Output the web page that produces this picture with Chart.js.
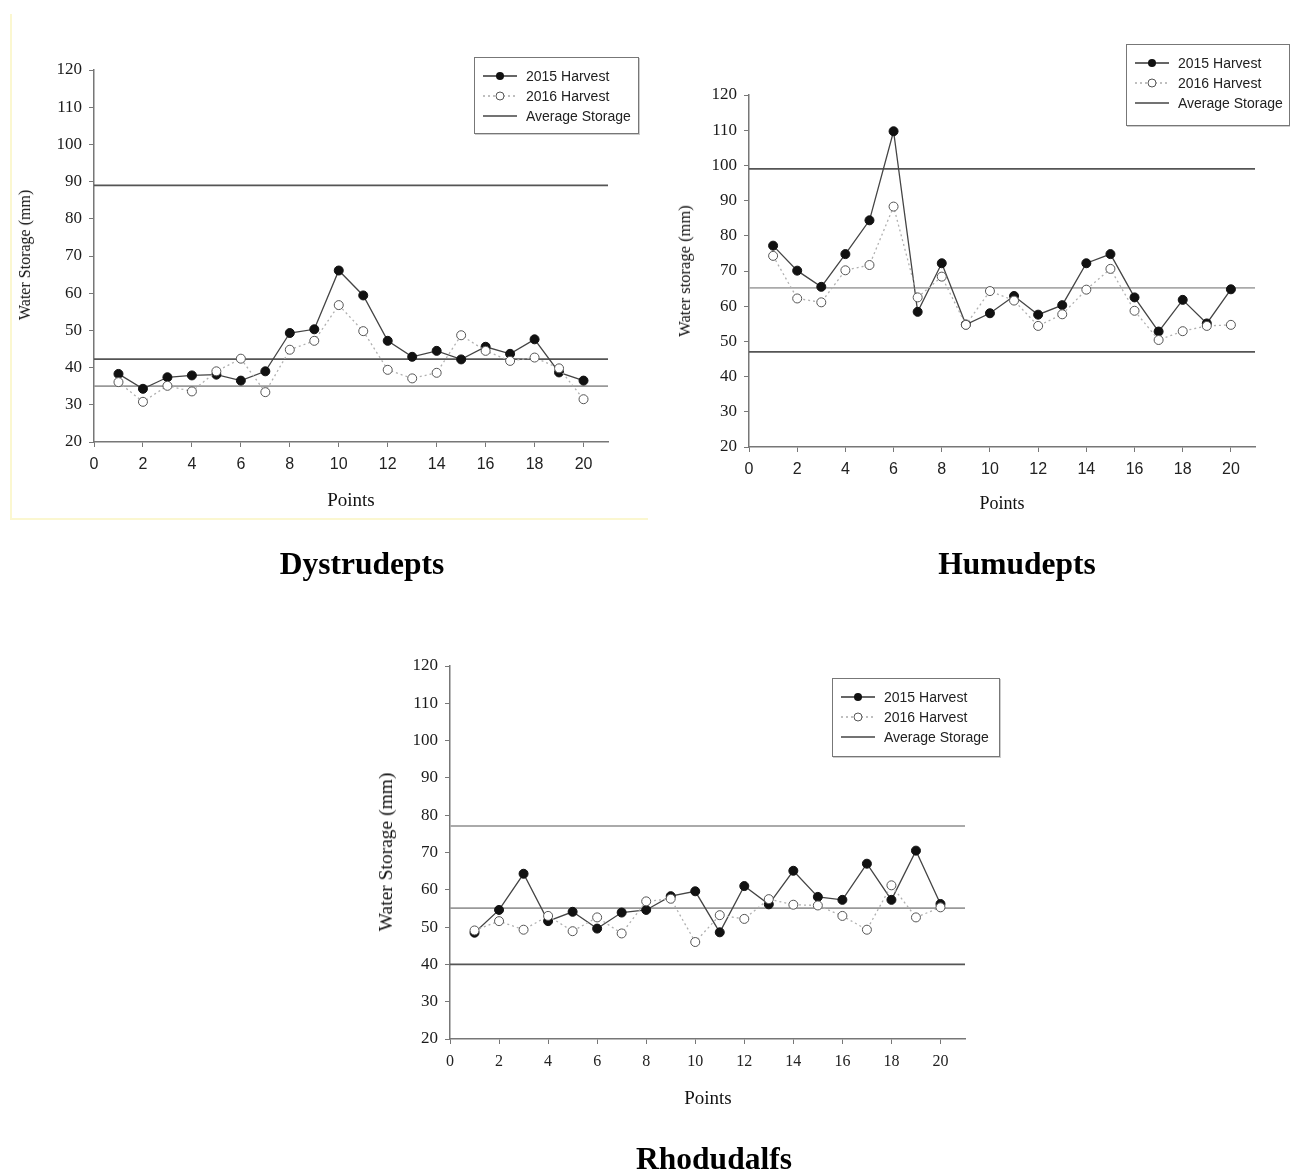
<!DOCTYPE html>
<html>
<head>
<meta charset="utf-8">
<script src="https://cdn.jsdelivr.net/npm/chart.js@4.4.1/dist/chart.umd.min.js"></script>
<style>
  body { margin: 0; background: #fff; }
  #page { position: relative; width: 1290px; height: 1173px; overflow: hidden; }
  canvas { position: absolute; }
  .txt { position: absolute; white-space: nowrap; transform: translate(-50%, -50%); color: #111; }
  .serif { font-family: "Liberation Serif", "DejaVu Serif", serif; }
  .title { font-weight: bold; font-size: 31.5px; color: #000; }
  .ylab { transform: translate(-50%, -50%) rotate(-90deg); }
  .legend { position: absolute; border: 1px solid #777; background: #fff; box-shadow: 1px 1px 0 #ccc;
            font-family: "Liberation Sans", Arial, sans-serif; font-size: 14px; color: #222; }
  .legend .row { position: absolute; left: 8px; height: 20px; display: flex; align-items: center; }
  .legend svg { margin-right: 9px; }
  #frame { position: absolute; left: 10px; top: 14px; width: 636px; height: 504px;
           border-left: 2px solid #fbf7d0; border-bottom: 2px solid #fbf7d0; }
</style>
</head>
<body>
<div id="page">
  <div id="frame"></div>
  <canvas id="c1" width="650" height="530" style="left:0;top:0"></canvas>
  <canvas id="c2" width="640" height="530" style="left:650px;top:0"></canvas>
  <canvas id="c3" width="700" height="510" style="left:330px;top:620px"></canvas>

  <div class="txt serif ylab" style="left:25px;top:255px;font-size:16px">Water Storage (mm)</div>
  <div class="txt serif" style="left:351px;top:500px;font-size:19px">Points</div>
  <div class="txt serif title" style="left:362px;top:564px">Dystrudepts</div>

  <div class="txt serif ylab" style="left:685px;top:271px;font-size:16.5px">Water storage (mm)</div>
  <div class="txt serif" style="left:1002px;top:503px;font-size:18px">Points</div>
  <div class="txt serif title" style="left:1017px;top:564px">Humudepts</div>

  <div class="txt serif ylab" style="left:386px;top:852px;font-size:19.5px">Water Storage (mm)</div>
  <div class="txt serif" style="left:708px;top:1098px;font-size:19px">Points</div>
  <div class="txt serif title" style="left:714px;top:1159px">Rhodudalfs</div>
</div>
<script>
// points 1..20
const points = [1,2,3,4,5,6,7,8,9,10,11,12,13,14,15,16,17,18,19,20];

// Dystrudepts
const dys2015 = [38.3,34.3,37.4,37.9,38.1,36.5,39,49.3,50.3,66.1,59.4,47.2,42.9,44.5,42.2,45.6,43.7,47.6,38.7,36.5];
const dys2016 = [36.1,30.8,35.1,33.6,39,42.4,33.4,44.8,47.2,56.8,49.8,39.4,37.1,38.6,48.7,44.5,41.8,42.7,39.8,31.5];
const dysAvg = [89, 42.3, 35];

// Humudepts
const hum2015 = [77.2,70.1,65.5,74.8,84.4,109.7,58.4,72.2,54.8,58,62.9,57.6,60.3,72.2,74.8,62.5,52.8,61.8,55.1,64.8];
const hum2016 = [74.3,62.2,61.1,70.2,71.7,88.3,62.5,68.4,54.7,64.3,61.6,54.4,57.7,64.7,70.6,58.7,50.4,52.9,54.4,54.7];
const humAvg = [99, 65.2, 47];

// Rhodudalfs
const rho2015 = [48.5,54.6,64.3,51.6,54.1,49.6,53.9,54.6,58.3,59.6,48.6,61,56.1,65.1,58.1,57.3,67,57.3,70.5,56.2];
const rho2016 = [49.1,51.6,49.3,53,48.9,52.6,48.3,56.9,57.6,46,53.2,52.2,57.5,56,55.8,53,49.3,61.2,52.6,55.3];
const rhoAvg = [77.1, 55.1, 40];

const xTicks = [0,2,4,6,8,10,12,14,16,18,20];
const yTicks = [20,30,40,50,60,70,80,90,100,110,120];

const serif = '"Liberation Serif", "DejaVu Serif", serif';
const sans = '"Liberation Sans", Arial, sans-serif';

function pairs(vals) {
  return points.map((p, i) => ({ x: p, y: vals[i] }));
}

function makeChart(id, s2015, s2016, avg, avgColors, box, xFont) {
  const datasets = [
    {
      label: '2016 Harvest', data: pairs(s2016), showLine: true, order: 0,
      borderColor: '#b0b0b0', borderWidth: 1.3, borderDash: [2, 3],
      pointRadius: 4.5, pointBackgroundColor: '#fff', pointBorderColor: '#555', pointBorderWidth: 1
    },
    {
      label: '2015 Harvest', data: pairs(s2015), showLine: true, order: 1,
      borderColor: '#444', borderWidth: 1.3,
      pointRadius: 4.5, pointBackgroundColor: '#111', pointBorderColor: '#111', pointBorderWidth: 1
    }
  ];
  avg.forEach((v, i) => {
    datasets.push({
      label: 'Average Storage', data: [{ x: 0, y: v }, { x: 21, y: v }], showLine: true, order: 2,
      borderColor: avgColors[i], borderWidth: 1.8, pointRadius: 0
    });
  });

  new Chart(document.getElementById(id), {
    type: 'scatter',
    data: { datasets },
    options: {
      responsive: false,
      animation: false,
      layout: { padding: { left: 0, top: box.top, right: box.right, bottom: 0 } },
      plugins: { legend: { display: false }, tooltip: { enabled: false } },
      scales: {
        x: {
          type: 'linear', min: 0, max: 21,
          afterFit: s => { s.height = box.xh; },
          afterBuildTicks: s => { s.ticks = xTicks.map(v => ({ value: v })); },
          grid: { drawOnChartArea: false, tickLength: 5, color: '#777' },
          border: { color: '#777', width: 1.5 },
          ticks: { padding: 8, color: '#222', font: { family: xFont, size: 16 } }
        },
        y: {
          type: 'linear', min: 20, max: 120,
          afterFit: s => { s.width = box.yw; },
          afterBuildTicks: s => { s.ticks = yTicks.map(v => ({ value: v })); },
          grid: { drawOnChartArea: false, tickLength: 5, color: '#777' },
          border: { color: '#777', width: 1.5 },
          ticks: { padding: 7, color: '#1a1a1a', font: { family: serif, size: 17 } }
        }
      }
    }
  });
}

makeChart('c1', dys2015, dys2016, dysAvg, ['#555', '#555', '#999'], { top: 70, right: 42, yw: 94, xh: 88 }, sans);
makeChart('c2', hum2015, hum2016, humAvg, ['#555', '#aaa', '#555'], { top: 95, right: 35, yw: 99, xh: 83 }, sans);
makeChart('c3', rho2015, rho2016, rhoAvg, ['#aaa', '#999', '#555'], { top: 46, right: 65, yw: 120, xh: 91 }, serif);

// legends drawn as html boxes over the plot areas
function legendSvg(kind) {
  if (kind === 'a') return '<svg width="34" height="12"><line x1="0" y1="6" x2="34" y2="6" stroke="#333" stroke-width="1.3"/><circle cx="17" cy="6" r="4" fill="#111"/></svg>';
  if (kind === 'b') return '<svg width="34" height="12"><line x1="0" y1="6" x2="34" y2="6" stroke="#aaa" stroke-width="1.3" stroke-dasharray="2,3"/><circle cx="17" cy="6" r="4" fill="#fff" stroke="#555"/></svg>';
  return '<svg width="34" height="12"><line x1="0" y1="6" x2="34" y2="6" stroke="#444" stroke-width="1.3"/></svg>';
}
const legendLabels = ['2015 Harvest', '2016 Harvest', 'Average Storage'];
function addLegend(left, top, w, h) {
  const d = document.createElement('div');
  d.className = 'legend';
  d.style.cssText = `left:${left}px;top:${top}px;width:${w}px;height:${h}px`;
  ['a', 'b', 'c'].forEach((k, i) => {
    const r = document.createElement('div');
    r.className = 'row';
    r.style.top = (8 + i * 20) + 'px';
    r.innerHTML = legendSvg(k) + '<span>' + legendLabels[i] + '</span>';
    d.appendChild(r);
  });
  document.getElementById('page').appendChild(d);
}
addLegend(474, 57, 163, 75);
addLegend(1126, 44, 162, 80);
addLegend(832, 678, 166, 77);
</script>
</body>
</html>
